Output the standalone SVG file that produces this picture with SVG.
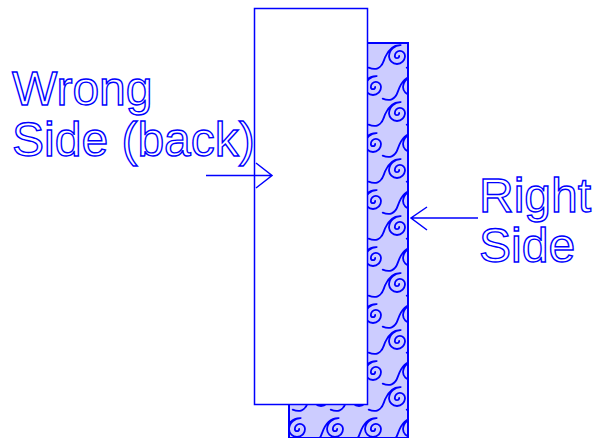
<svg xmlns="http://www.w3.org/2000/svg" width="596" height="438" viewBox="0 0 596 438">
<style>
.lbl{font-family:"Liberation Sans",Arial,sans-serif;font-size:48px;fill:#fff;stroke:#0000ff;stroke-width:1.4}
.ln{stroke:#0000ff;stroke-width:1.5;fill:none}
.sw{fill:none;stroke:#0000ff;stroke-width:1.25;stroke-linecap:round}
</style>
<defs>
<pattern id="swirl" patternUnits="userSpaceOnUse" x="0" y="0" width="38" height="57">
<rect width="38" height="57" fill="#ccccff"/>
<g id="s1" transform="translate(31,30) scale(1.45)">
<path class="sw" d="M1.5,0 A1.5,1.5 0 0 1 -1.5,0 A3.5,3.5 0 0 1 5.5,0 A5.5,5.5 0 0 1 -5.5,0 A8,8 0 0 1 3,-7.5 C-3,-8 -7,-3 -9,3 C-11,9 -15,10 -19.5,8"/>
</g>
<use href="#s1" transform="translate(-38,0)"/>
<use href="#s1" transform="translate(24,-31)"/>
<use href="#s1" transform="translate(-14,-31)"/>
<use href="#s1" transform="translate(24,26)"/>
<use href="#s1" transform="translate(-14,26)"/>
<use href="#s1" transform="translate(-38,57)"/>
<use href="#s1" transform="translate(0,57)"/>
<use href="#s1" transform="translate(0,-57)"/>
<use href="#s1" transform="translate(-38,-57)"/>
<use href="#s1" transform="translate(24,83)"/>
<use href="#s1" transform="translate(-14,83)"/>
</pattern>
</defs>
<g id="fabric">
<path d="M367,43 H408 V438 H289 V404 H367 Z" fill="url(#swirl)" stroke="#0000ff" stroke-width="2"/>
</g>
<g id="wrong-side-panel">
<rect x="254.5" y="8.5" width="113" height="396" fill="#fff" stroke="#0000ff" stroke-width="1.5"/>
</g>
<g id="label-wrong">
<text class="lbl" x="12" y="105">Wrong</text>
<text class="lbl" x="12" y="156">Side (back)</text>
</g>
<g id="label-right">
<text class="lbl" x="479" y="212">Right</text>
<text class="lbl" x="479" y="262">Side</text>
</g>
<g id="connectors">
<path class="ln" d="M206,175.5 H272 M256,163 L272,175.5 L256,188"/>
<path class="ln" d="M478,218 H411 M427,207 L411,218 L427,230"/>
</g>
</svg>
